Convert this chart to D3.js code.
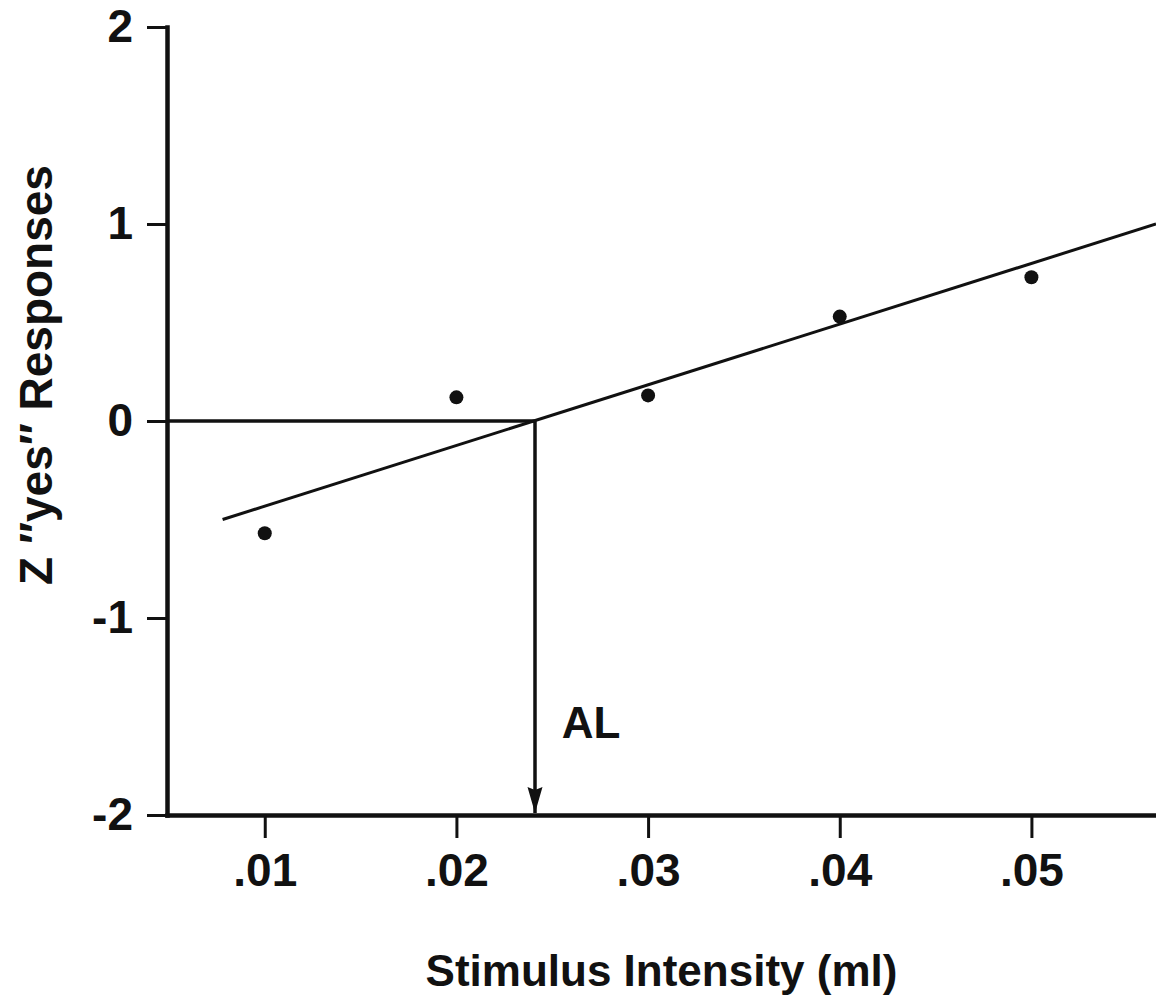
<!DOCTYPE html>
<html>
<head>
<meta charset="utf-8">
<script src="https://cdn.jsdelivr.net/npm/d3@7"></script>
<style>
  html, body { margin: 0; padding: 0; background: #fff; }
  svg { display: block; }
  text { font-family: "Liberation Sans", Arial, Helvetica, sans-serif; font-weight: bold; fill: #111; }
</style>
</head>
<body>
<svg id="chart" width="1156" height="1006"></svg>
<script>
// Stimulus intensity (ml) and z-scores of "yes" responses
const intensities = [0.01, 0.02, 0.03, 0.04, 0.05];
const zYes = [-0.57, 0.12, 0.13, 0.53, 0.73];

// Fitted line end points
const fitX = [0.0078, 0.0565];
const fitY = [-0.50, 1.00];

// Absolute limit: intensity where the fit crosses z = 0
const alIntensity = 0.0241;

// Tick values and labels
const xTicks = [0.01, 0.02, 0.03, 0.04, 0.05];
const xTickLabels = [".01", ".02", ".03", ".04", ".05"];
const yTicks = [-2, -1, 0, 1, 2];
const yTickLabels = ["-2", "-1", "0", "1", "2"];

const svg = d3.select("#chart");
const ink = "#111";

const x = d3.scaleLinear().domain([0.0049, 0.0565]).range([167, 1156]);
const y = d3.scaleLinear().domain([-2, 2]).range([815, 27]);

// Axes
const xAxis = d3.axisBottom(x)
  .tickValues(xTicks)
  .tickFormat((d, i) => xTickLabels[i])
  .tickSizeInner(23).tickSizeOuter(0).tickPadding(15);
const yAxis = d3.axisLeft(y)
  .tickValues(yTicks)
  .tickFormat((d, i) => yTickLabels[i])
  .tickSizeInner(20).tickSizeOuter(0).tickPadding(14);

const gx = svg.append("g").attr("transform", `translate(0,${y(-2)})`).call(xAxis);
const gy = svg.append("g").attr("transform", `translate(${x.range()[0]},0)`).call(yAxis);

[gx, gy].forEach(g => {
  g.select(".domain").attr("stroke", ink).attr("stroke-width", 4.5).attr("stroke-linecap", "square");
  g.selectAll(".tick line").attr("stroke", ink).attr("stroke-width", 3);
  g.selectAll(".tick text").attr("fill", ink)
    .style("font-size", "46px").style("font-weight", "bold")
    .style("font-family", "'Liberation Sans', Arial, Helvetica, sans-serif");
});

// Reference line at z = 0 from the axis to the crossing point
svg.append("line")
  .attr("x1", x.range()[0]).attr("y1", y(0))
  .attr("x2", x(alIntensity)).attr("y2", y(0))
  .attr("stroke", ink).attr("stroke-width", 3.5);

// Arrow marker (solid head pointing along the line direction)
svg.append("defs").append("marker")
  .attr("id", "arrow")
  .attr("viewBox", "0 0 26 16")
  .attr("refX", 26).attr("refY", 8)
  .attr("markerWidth", 26).attr("markerHeight", 16)
  .attr("markerUnits", "userSpaceOnUse")
  .attr("orient", "auto")
  .append("path")
  .attr("d", "M0,0.5 L26,8 L0,15.5 L3,8 Z")
  .attr("fill", ink);

// Drop line from the crossing point to the intensity axis
svg.append("line")
  .attr("x1", x(alIntensity)).attr("y1", y(0))
  .attr("x2", x(alIntensity)).attr("y2", y(-2) - 2)
  .attr("stroke", ink).attr("stroke-width", 3.5)
  .attr("marker-end", "url(#arrow)");

// Fitted line
svg.append("line")
  .attr("x1", x(fitX[0])).attr("y1", y(fitY[0]))
  .attr("x2", x(fitX[1])).attr("y2", y(fitY[1]))
  .attr("stroke", ink).attr("stroke-width", 3);

// Data points
svg.append("g").selectAll("circle")
  .data(intensities.map((v, i) => [v, zYes[i]]))
  .join("circle")
  .attr("cx", d => x(d[0]))
  .attr("cy", d => y(d[1]))
  .attr("r", 7)
  .attr("fill", ink);

// AL label
svg.append("text")
  .attr("x", x(0.0255)).attr("y", y(-1.61))
  .style("font-size", "44px")
  .text("AL");

// Axis titles
svg.append("text")
  .attr("x", (x.range()[0] + x.range()[1]) / 2)
  .attr("y", 986)
  .attr("text-anchor", "middle")
  .style("font-size", "44px")
  .text("Stimulus Intensity (ml)");

svg.append("text")
  .attr("transform", `translate(52,375) rotate(-90)`)
  .attr("text-anchor", "middle")
  .style("font-size", "46px")
  .text("Z \u2033yes\u2033 Responses");
</script>
</body>
</html>
